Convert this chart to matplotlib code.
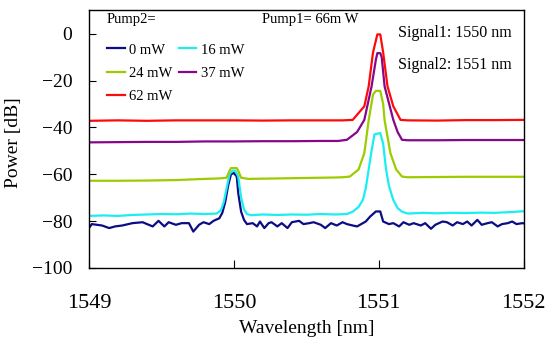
import numpy as np
import matplotlib
matplotlib.use("Agg")
from matplotlib import pyplot as plt

plt.rcParams['font.family'] = ['Liberation Serif', 'DejaVu Serif']

# Pump2 = 0 mW (noisy floor, small peaks at both signals)
wl_0 = [1549.00, 1549.02, 1549.09, 1549.14, 1549.18, 1549.23, 1549.30, 1549.37, 1549.44,
        1549.48, 1549.52, 1549.55, 1549.60, 1549.64, 1549.69, 1549.72, 1549.76, 1549.79,
        1549.83, 1549.86, 1549.90, 1549.92, 1549.94, 1549.96, 1549.98, 1550.00, 1550.02,
        1550.03, 1550.05, 1550.07, 1550.09, 1550.13, 1550.16, 1550.18, 1550.21, 1550.24,
        1550.26, 1550.30, 1550.33, 1550.37, 1550.40, 1550.45, 1550.48, 1550.52, 1550.55,
        1550.60, 1550.63, 1550.67, 1550.71, 1550.75, 1550.78, 1550.82, 1550.85, 1550.89,
        1550.91, 1550.94, 1550.98, 1551.01, 1551.03, 1551.07, 1551.10, 1551.14, 1551.17,
        1551.21, 1551.24, 1551.29, 1551.32, 1551.36, 1551.39, 1551.44, 1551.47, 1551.51,
        1551.54, 1551.58, 1551.61, 1551.64, 1551.68, 1551.71, 1551.75, 1551.78, 1551.82,
        1551.85, 1551.89, 1551.92, 1551.95, 1551.99, 1552.00]
pw_0 = [-83.0, -81.3, -81.9, -83.0, -82.3, -81.9, -80.9, -80.5, -82.3,
        -79.9, -82.3, -80.5, -81.6, -80.9, -80.9, -84.5, -81.6, -80.5,
        -81.3, -79.9, -78.8, -76.5, -72.0, -65.0, -60.0, -59.5, -61.0,
        -68.0, -76.0, -79.5, -81.3, -80.9, -82.3, -80.2, -83.0, -80.9,
        -80.5, -82.3, -80.9, -83.0, -80.5, -79.9, -81.3, -80.9, -80.5,
        -81.6, -83.0, -80.9, -81.9, -80.5, -81.3, -81.9, -82.3, -80.9,
        -80.2, -78.1, -75.9, -75.9, -80.2, -81.3, -80.9, -82.3, -80.5,
        -81.6, -80.9, -81.9, -80.9, -83.3, -81.6, -80.2, -80.5, -81.9,
        -80.5, -81.3, -80.2, -81.9, -79.5, -81.6, -80.9, -80.5, -82.3,
        -81.3, -80.9, -80.2, -81.3, -80.9, -81.0]

# Pump2 = 16 mW
wl_16 = [1549.00, 1549.10, 1549.20, 1549.30, 1549.40, 1549.50, 1549.60, 1549.70, 1549.80,
         1549.88, 1549.91, 1549.93, 1549.95, 1549.97, 1549.99, 1550.01, 1550.03, 1550.05,
         1550.07, 1550.09, 1550.12, 1550.20, 1550.30, 1550.40, 1550.50, 1550.60, 1550.70,
         1550.78, 1550.82, 1550.86, 1550.89, 1550.91, 1550.93, 1550.95, 1550.97, 1551.01,
         1551.03, 1551.05, 1551.07, 1551.10, 1551.13, 1551.16, 1551.20, 1551.30, 1551.40,
         1551.50, 1551.60, 1551.70, 1551.80, 1551.90, 1552.00]
pw_16 = [-77.8, -77.6, -77.8, -77.4, -77.2, -77.0, -77.1, -76.8, -77.0,
         -76.8, -75.5, -72.0, -66.0, -60.0, -58.5, -58.5, -61.0, -70.0,
         -75.0, -77.0, -77.5, -77.2, -77.4, -77.2, -77.3, -77.0, -77.2,
         -77.0, -76.0, -74.0, -71.0, -66.0, -58.0, -50.0, -43.0, -42.4,
         -47.0, -58.0, -65.0, -71.0, -74.5, -76.0, -76.8, -76.5, -76.7,
         -76.5, -76.6, -76.4, -76.5, -76.2, -75.8]

# Pump2 = 24 mW
wl_24 = [1549.00, 1549.20, 1549.40, 1549.60, 1549.80, 1549.90, 1549.95, 1549.97, 1549.98,
         1550.02, 1550.03, 1550.05, 1550.10, 1550.30, 1550.50, 1550.70, 1550.75, 1550.80,
         1550.86, 1550.90, 1550.93, 1550.96, 1550.98, 1551.01, 1551.03, 1551.04, 1551.08,
         1551.12, 1551.16, 1551.20, 1551.40, 1551.60, 1551.80, 1552.00]
pw_24 = [-62.8, -62.8, -62.7, -62.5, -62.0, -61.8, -61.5, -58.5, -57.4,
         -57.4, -58.5, -61.5, -62.0, -61.8, -61.6, -61.4, -61.3, -61.0,
         -58.0, -51.0, -37.0, -26.0, -24.4, -24.4, -30.0, -37.0, -51.0,
         -58.0, -61.0, -61.3, -61.2, -61.1, -61.1, -61.1]

# Pump2 = 37 mW
wl_37 = [1549.00, 1549.20, 1549.40, 1549.60, 1549.80, 1550.00, 1550.20, 1550.40, 1550.60,
         1550.72, 1550.78, 1550.85, 1550.90, 1550.95, 1550.98, 1550.99, 1551.01, 1551.02,
         1551.04, 1551.10, 1551.13, 1551.16, 1551.20, 1551.40, 1551.60, 1551.80, 1552.00]
pw_37 = [-46.4, -46.3, -46.2, -46.2, -46.0, -46.0, -45.9, -45.9, -45.8,
         -45.8, -45.3, -42.0, -36.8, -22.5, -11.0, -8.3, -8.3, -10.0,
         -22.5, -36.8, -42.0, -45.3, -45.5, -45.5, -45.4, -45.4, -45.4]

# Pump2 = 62 mW
wl_62 = [1549.00, 1549.20, 1549.40, 1549.60, 1549.80, 1550.00, 1550.20, 1550.40, 1550.60,
         1550.75, 1550.82, 1550.90, 1550.93, 1550.96, 1550.99, 1551.01, 1551.03, 1551.06,
         1551.10, 1551.15, 1551.20, 1551.40, 1551.60, 1551.80, 1552.00]
pw_62 = [-37.2, -37.0, -37.2, -37.0, -37.0, -37.0, -37.1, -37.0, -37.0,
         -37.0, -36.8, -31.0, -22.5, -8.0, -0.3, -0.3, -8.0, -22.5,
         -31.0, -36.8, -37.0, -37.1, -36.9, -36.9, -36.8]

# legend order (filled column-wise): 0, 24, 62 | 16, 37
series = [
    (wl_0, pw_0, '#0c0c84', '0 mW'),
    (wl_24, pw_24, '#9ccc00', '24 mW'),
    (wl_62, pw_62, '#ff0a0a', '62 mW'),
    (wl_16, pw_16, '#1aeef2', '16 mW'),
    (wl_37, pw_37, '#86078a', '37 mW'),
]
draw_order = [0, 3, 1, 4, 2]

fig = plt.figure(figsize=(5.49, 3.43), dpi=100)
ax = fig.add_axes([0.162, 0.219, 0.792, 0.751])

lines = {}
for i in draw_order:
    x, y, c, lab = series[i]
    lines[i], = ax.plot(x, y, color=c, lw=1.6, label=lab)

ax.set_xlim(1549, 1552)
ax.set_ylim(-100, 10)
ax.set_xticks([1549, 1550, 1551, 1552])
ax.set_yticks([-100, -80, -60, -40, -20, 0])
ax.set_yticklabels(['\u2212100', '\u221280', '\u221260', '\u221240', '\u221220', '0'])
ax.tick_params(axis='y', direction='in', length=5, labelsize=14, pad=12)
ax.tick_params(axis='x', direction='in', length=6, labelsize=16, pad=19)
for s in ax.spines.values():
    s.set_linewidth(1.0)

ax.set_xlabel('Wavelength [nm]', fontsize=14, labelpad=5)
ax.set_ylabel('Power [dB]', fontsize=14)
ax.yaxis.set_label_coords(-0.155, 0.485)

leg = ax.legend([lines[i] for i in range(5)], [series[i][3] for i in range(5)],
                ncol=2, loc='upper left', bbox_to_anchor=(0.025, 0.90), frameon=False,
                fontsize=10.5, handlelength=1.2, handletextpad=0.3, columnspacing=0.45,
                labelspacing=0.7, borderpad=0.0)
ax.text(0.041, 0.966, 'Pump2=', transform=ax.transAxes, fontsize=10.5, va='center')
ax.text(0.397, 0.966, 'Pump1= 66m W', transform=ax.transAxes, fontsize=10.5, va='center')
ax.text(0.711, 0.912, 'Signal1: 1550 nm', transform=ax.transAxes, fontsize=11.5, va='center')
ax.text(0.711, 0.788, 'Signal2: 1551 nm', transform=ax.transAxes, fontsize=11.5, va='center')

fig.savefig('out.png', dpi=100)
